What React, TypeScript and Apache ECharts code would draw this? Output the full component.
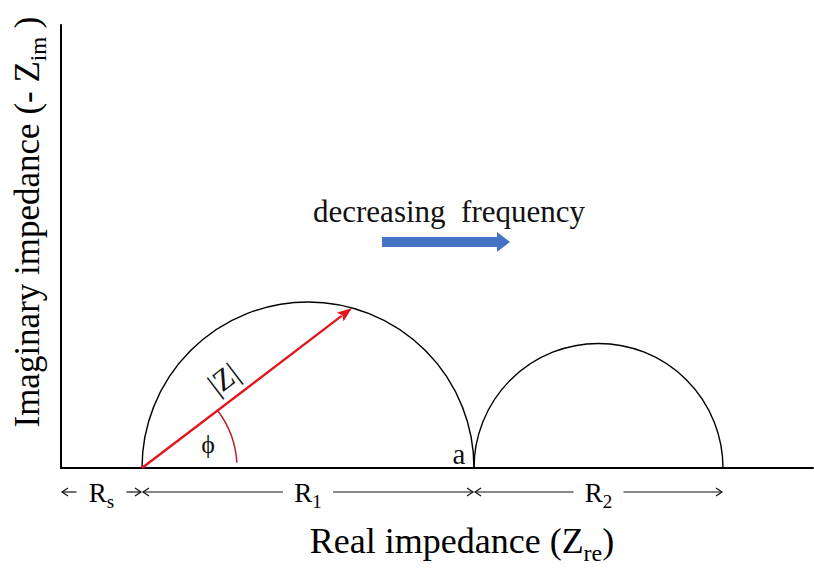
import React, { useEffect, useRef } from "react";
import * as echarts from "echarts";

// Equivalent-circuit resistances (arbitrary units along Z_re)
const Rs = 0.81;
const R1 = 3.32;
const R2 = 2.49;
// Tip of the |Z| vector on the first semicircle [Z_re, -Z_im]
const zTip = [2.91, 1.6];
// Radius of the phase-angle arc
const phiArcRadius = 0.95;
// "decreasing frequency" arrow, start and end [Z_re, -Z_im]
const freqArrow = [
  [3.21, 2.26],
  [4.49, 2.26],
];
// Resistance spans marked under the axis
const spanStarts = [0, Rs, Rs + R1];
const spanEnds = [Rs, Rs + R1, Rs + R1 + R2];
const spanSubs = ["s", "1", "2"];
// Axis extents
const X_MAX = 7.52;
const Y_MAX = 4.43;

const FONT = '"Liberation Serif", "Times New Roman", Times, serif';
const INK = "#111";

function arrowShapes(
  p1: number[],
  p2: number[],
  color: string,
  lineWidth: number,
  headLen: number,
  headHalf: number
) {
  const dx = p2[0] - p1[0];
  const dy = p2[1] - p1[1];
  const len = Math.sqrt(dx * dx + dy * dy);
  const ux = dx / len;
  const uy = dy / len;
  const bx = p2[0] - ux * headLen;
  const by = p2[1] - uy * headLen;
  return [
    {
      type: "line",
      shape: { x1: p1[0], y1: p1[1], x2: bx + ux * 2, y2: by + uy * 2 },
      style: { stroke: color, lineWidth },
    },
    {
      type: "polygon",
      shape: {
        points: [
          [p2[0], p2[1]],
          [bx - uy * headHalf, by + ux * headHalf],
          [bx + ux * 3, by + uy * 3],
          [bx + uy * headHalf, by - ux * headHalf],
        ],
      },
      style: { fill: color },
    },
  ];
}

function textStyle(text: string, size: number) {
  return {
    text,
    fontSize: size,
    fontFamily: FONT,
    fill: INK,
    align: "center",
    verticalAlign: "middle",
  };
}

export default function App() {
  const ref = useRef<HTMLDivElement>(null);

  useEffect(() => {
    if (!ref.current) return;
    const chart = echarts.init(ref.current, null, { renderer: "svg" });

    const titleRich = (size: number, subSize: number, lh: number) => ({
      m: { fontSize: size, fontFamily: FONT, color: INK, lineHeight: lh },
      sub: {
        fontSize: subSize,
        fontFamily: FONT,
        color: INK,
        lineHeight: subSize,
        verticalAlign: "bottom",
      },
    });

    chart.setOption({
      animation: false,
      backgroundColor: "#fff",
      textStyle: { fontFamily: FONT },
      grid: { left: 61, top: 25, width: 752, height: 443 },
      xAxis: {
        type: "value",
        min: 0,
        max: X_MAX,
        axisLine: { show: true, lineStyle: { color: "#000", width: 2 } },
        axisTick: { show: false },
        axisLabel: { show: false },
        splitLine: { show: false },
      },
      yAxis: {
        type: "value",
        min: 0,
        max: Y_MAX,
        axisLine: { show: true, lineStyle: { color: "#000", width: 2 } },
        axisTick: { show: false },
        axisLabel: { show: false },
        splitLine: { show: false },
      },
      graphic: [
        {
          type: "text",
          x: 27,
          y: 222,
          rotation: Math.PI / 2,
          style: {
            text: "{m|Imaginary impedance (- Z}{sub|im}{m| )}",
            rich: titleRich(35, 23, 46),
            fontFamily: FONT,
            align: "center",
            verticalAlign: "middle",
          },
        },
        {
          type: "text",
          x: 462,
          y: 541,
          style: {
            text: "{m|Real impedance (Z}{sub|re}{m|)}",
            rich: titleRich(36, 24, 47),
            fontFamily: FONT,
            align: "center",
            verticalAlign: "middle",
          },
        },
      ],
      series: [
        // Semicircles of the two RC elements
        {
          type: "custom",
          coordinateSystem: "cartesian2d",
          clip: false,
          data: [
            [Rs + R1 / 2, R1 / 2],
            [Rs + R1 + R2 / 2, R2 / 2],
          ],
          renderItem: (params: any, api: any) => {
            const c = api.coord([api.value(0), 0]);
            const r = api.size([api.value(1), 0])[0];
            return {
              type: "arc",
              shape: {
                cx: c[0],
                cy: c[1],
                r,
                startAngle: Math.PI,
                endAngle: 2 * Math.PI,
                clockwise: true,
              },
              style: { stroke: "#000", fill: null, lineWidth: 1.4 },
            };
          },
        },
        // |Z| vector, phase angle and labels
        {
          type: "custom",
          coordinateSystem: "cartesian2d",
          clip: false,
          data: [[Rs, 0, zTip[0], zTip[1]]],
          renderItem: (params: any, api: any) => {
            const p1 = api.coord([api.value(0), api.value(1)]);
            const p2 = api.coord([api.value(2), api.value(3)]);
            const phi = Math.atan2(p1[1] - p2[1], p2[0] - p1[0]);
            const r = api.size([phiArcRadius, 0])[0];
            const junction = api.coord([Rs + R1, 0]);
            const mid = [
              p1[0] + (p2[0] - p1[0]) * 0.45 - Math.sin(phi) * 22,
              p1[1] + (p2[1] - p1[1]) * 0.45 - Math.cos(phi) * 22,
            ];
            return {
              type: "group",
              children: [
                ...arrowShapes(p1, p2, "#e3161f", 2.4, 15, 5.5),
                {
                  type: "arc",
                  shape: {
                    cx: p1[0],
                    cy: p1[1],
                    r,
                    startAngle: -phi,
                    endAngle: -0.055,
                    clockwise: true,
                  },
                  style: { stroke: "#b8232b", fill: null, lineWidth: 1.5 },
                },
                {
                  type: "text",
                  x: p1[0] + 66,
                  y: p1[1] - 24,
                  style: textStyle("ϕ", 26),
                },
                {
                  type: "text",
                  x: mid[0],
                  y: mid[1],
                  rotation: phi,
                  style: textStyle("|Z|", 30),
                },
                {
                  type: "text",
                  x: junction[0] - 15,
                  y: junction[1] - 14,
                  style: textStyle("a", 29),
                },
              ],
            };
          },
        },
        // Frequency direction arrow
        {
          type: "custom",
          coordinateSystem: "cartesian2d",
          clip: false,
          data: [[freqArrow[0][0], freqArrow[0][1], freqArrow[1][0], freqArrow[1][1]]],
          renderItem: (params: any, api: any) => {
            const p1 = api.coord([api.value(0), api.value(1)]);
            const p2 = api.coord([api.value(2), api.value(3)]);
            const head = 13;
            return {
              type: "group",
              children: [
                {
                  type: "rect",
                  shape: { x: p1[0], y: p1[1] - 5, width: p2[0] - p1[0] - head, height: 10 },
                  style: { fill: "#4472c4" },
                },
                {
                  type: "polygon",
                  shape: {
                    points: [
                      [p2[0] - head, p1[1] - 10],
                      [p2[0], p1[1]],
                      [p2[0] - head, p1[1] + 10],
                    ],
                  },
                  style: { fill: "#4472c4" },
                },
                {
                  type: "text",
                  x: (p1[0] + p2[0]) / 2 + 3,
                  y: p1[1] - 31,
                  style: textStyle("decreasing  frequency", 31),
                },
              ],
            };
          },
        },
        // Resistance spans under the real axis
        {
          type: "custom",
          coordinateSystem: "cartesian2d",
          clip: false,
          data: spanStarts.map((s, i) => [s, spanEnds[i], i]),
          renderItem: (params: any, api: any) => {
            const a = api.coord([api.value(0), 0]);
            const b = api.coord([api.value(1), 0]);
            const sub = spanSubs[api.value(2)];
            const y = a[1] + 24;
            const x1 = a[0] + 1;
            const x2 = b[0] - 1;
            const mid = (x1 + x2) / 2;
            const gap = 25;
            const st = { stroke: INK, lineWidth: 1.2, fill: null };
            return {
              type: "group",
              children: [
                { type: "line", shape: { x1, y1: y, x2: mid - gap, y2: y }, style: st },
                { type: "line", shape: { x1: mid + gap, y1: y, x2, y2: y }, style: st },
                {
                  type: "polyline",
                  shape: { points: [[x1 + 6, y - 4], [x1, y], [x1 + 6, y + 4]] },
                  style: st,
                },
                {
                  type: "polyline",
                  shape: { points: [[x2 - 6, y - 4], [x2, y], [x2 - 6, y + 4]] },
                  style: st,
                },
                {
                  type: "text",
                  x: mid,
                  y: y + 1,
                  style: {
                    text: `{m|R}{sub|${sub}}`,
                    rich: titleRich(27, 19, 36),
                    fontFamily: FONT,
                    align: "center",
                    verticalAlign: "middle",
                  },
                },
              ],
            };
          },
        },
      ],
    });

    return () => chart.dispose();
  }, []);

  return (
    <div
      ref={ref}
      style={{ position: "fixed", left: 0, top: 0, width: 814, height: 569, background: "#fff" }}
    />
  );
}
